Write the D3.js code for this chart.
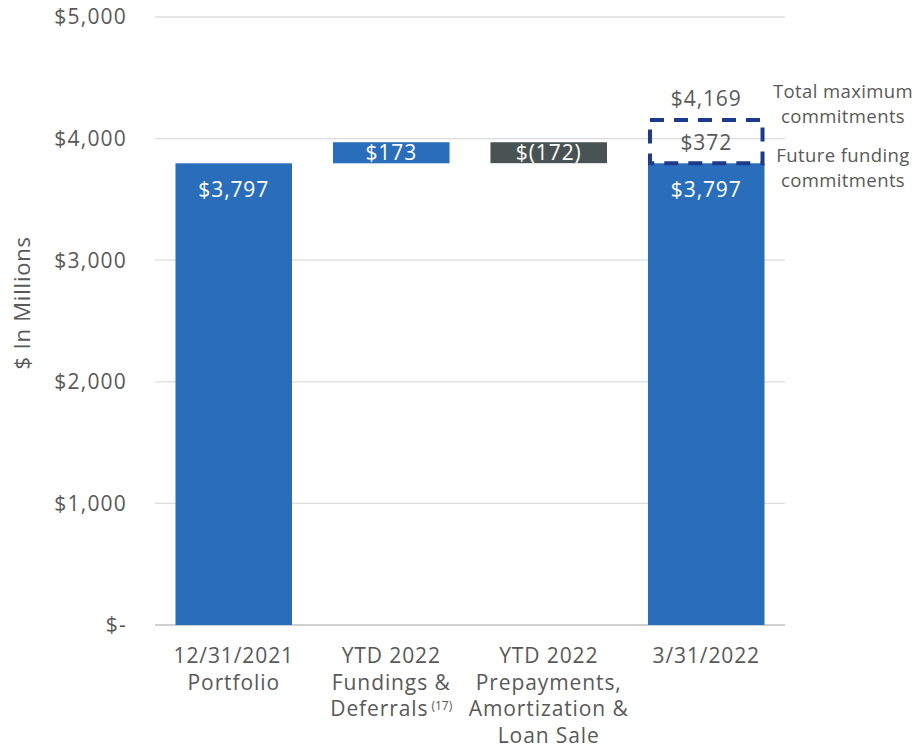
<!DOCTYPE html>
<html><head><meta charset="utf-8">
<script src="https://cdn.jsdelivr.net/npm/d3@7"></script>
<style>body{margin:0;background:#fff}svg{display:block}text{font-family:"Open Sans","Liberation Sans",sans-serif}</style>
</head><body><svg id="c" width="915" height="748"></svg>
<script>
const categories = ["12/31/2021 Portfolio","YTD 2022 Fundings & Deferrals","YTD 2022 Prepayments, Amortization & Loan Sale","3/31/2022"];
const categoryLines = [["12/31/2021","Portfolio"],["YTD 2022","Fundings &","Deferrals"],["YTD 2022","Prepayments,","Amortization &","Loan Sale"],["3/31/2022"]];
const footnote = "(17)";
const barStart = [0, 3797, 3970, 0];
const barEnd = [3797, 3970, 3798, 3797];
const barLabels = ["$3,797","$173","$(172)","$3,797"];
const barKinds = ["total","increase","decrease","total"];
const futureCommitments = [3797, 4169];
const futureLabel = "$372";
const totalLabel = "$4,169";
const yTicks = [0,1000,2000,3000,4000,5000];
const yTickLabels = ["$-","$1,000","$2,000","$3,000","$4,000","$5,000"];

const svg = d3.select("#c");
const x = d3.scaleBand().domain(categories).range([155,785]).paddingInner(0.26).paddingOuter(0.13);
const y = d3.scaleLinear().domain([0,5000]).range([625,17]);
const colors = {total:"#2A6EBB", increase:"#2A6EBB", decrease:"#4A5354"};
const grey = "#595959";
const LS = 0.9;

svg.append("g").selectAll("line").data(yTicks).join("line")
  .attr("x1",155).attr("x2",785).attr("y1",d=>y(d)).attr("y2",d=>y(d))
  .attr("stroke",d=>d===0?"#d0d0d0":"#dcdcdc").attr("stroke-width",d=>d===0?2:1.3);
svg.append("g").selectAll("text").data(yTicks).join("text")
  .attr("x",127).attr("y",d=>y(d)).attr("dy","0.35em").attr("text-anchor","end")
  .attr("font-size",21).attr("letter-spacing",LS+0.3).attr("fill",grey).text((d,i)=>yTickLabels[i]);

svg.append("text").attr("transform","translate(22,"+y(2650)+") rotate(-90)")
  .attr("text-anchor","middle").attr("dy","0.35em").attr("font-size",22).attr("letter-spacing",0.8).attr("fill",grey).text("$ In Millions");

svg.append("g").selectAll("rect").data(categories).join("rect")
  .attr("x",d=>x(d)).attr("width",x.bandwidth())
  .attr("y",(d,i)=>y(Math.max(barStart[i],barEnd[i])))
  .attr("height",(d,i)=>Math.abs(y(barStart[i])-y(barEnd[i])))
  .attr("fill",(d,i)=>colors[barKinds[i]]);

const c4 = categories[3];
svg.append("rect").attr("x",x(c4)+2).attr("width",x.bandwidth()-4)
  .attr("y",y(futureCommitments[1])+2).attr("height",y(futureCommitments[0])-y(futureCommitments[1])-2)
  .attr("fill","none").attr("stroke","#1F3A8A").attr("stroke-width",4).attr("stroke-dasharray","14,10");

const labelY = [y(3797)+26, (y(3797)+y(3970))/2, (y(3970)+y(3798))/2, y(3797)+26];
svg.append("g").selectAll("text").data(categories).join("text")
  .attr("x",d=>x(d)+x.bandwidth()/2).attr("y",(d,i)=>labelY[i]).attr("dy","0.35em")
  .attr("text-anchor","middle").attr("font-size",21).attr("letter-spacing",LS).attr("fill","#fff").text((d,i)=>barLabels[i]);
svg.append("text").attr("x",x(c4)+x.bandwidth()/2).attr("y",(y(futureCommitments[0])+y(futureCommitments[1]))/2+2)
  .attr("dy","0.35em").attr("text-anchor","middle").attr("font-size",21).attr("letter-spacing",LS).attr("fill",grey).text(futureLabel);
svg.append("text").attr("x",x(c4)+x.bandwidth()/2).attr("y",y(futureCommitments[1])-19)
  .attr("dy","0.35em").attr("text-anchor","middle").attr("font-size",21).attr("letter-spacing",LS).attr("fill",grey).text(totalLabel);

const ann = [["Total maximum",92],["commitments",117],["Future funding",156],["commitments",181]];
svg.append("g").selectAll("text").data(ann).join("text")
  .attr("x",843).attr("y",d=>d[1]).attr("dy","0.35em").attr("text-anchor","middle")
  .attr("font-size",18.5).attr("letter-spacing",0.4).attr("fill",grey).text(d=>d[0]);

categories.forEach((c,i)=>{
  const cx = x(c)+x.bandwidth()/2;
  categoryLines[i].forEach((ln,j)=>{
    const yy = 663+j*26.5;
    if(i===1 && j===2){
      const t = svg.append("text").attr("x",0).attr("y",yy).attr("font-size",21).attr("letter-spacing",LS).attr("fill",grey).text(ln);
      const f = svg.append("text").attr("x",0).attr("y",yy-6).attr("font-size",12).attr("fill",grey).text(footnote);
      const w1 = t.node().getComputedTextLength(), w2 = f.node().getComputedTextLength();
      const start = cx - (w1+w2+3)/2;
      t.attr("x",start); f.attr("x",start+w1+3);
    } else {
      svg.append("text").attr("x",cx).attr("y",yy).attr("text-anchor","middle")
        .attr("font-size",21).attr("letter-spacing",LS).attr("fill",grey).text(ln);
    }
  });
});
</script></body></html>
